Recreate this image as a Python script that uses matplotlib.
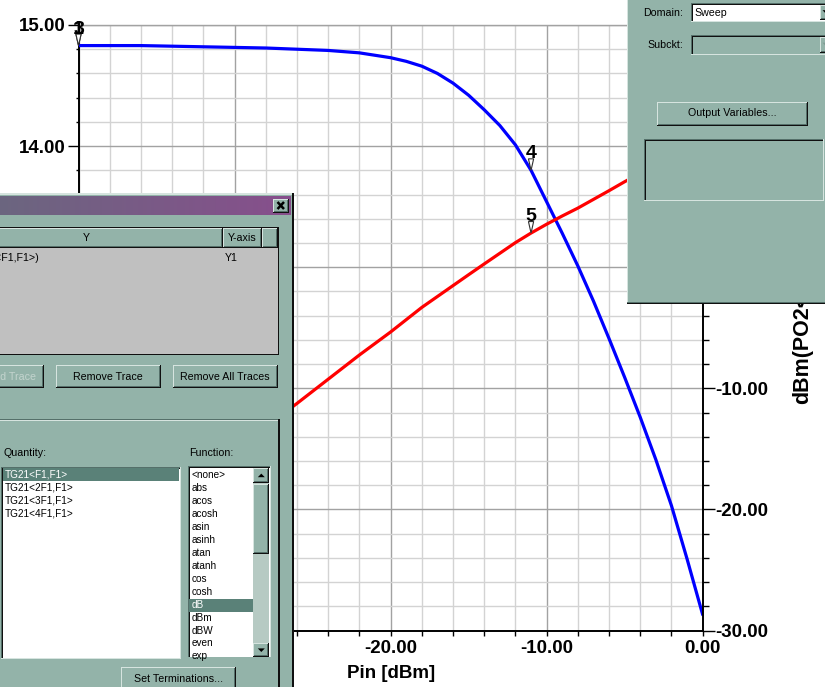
import numpy as np
import matplotlib
matplotlib.use("Agg")
import matplotlib.pyplot as plt
from matplotlib.patches import Rectangle, Polygon
from matplotlib.transforms import Affine2D, ScaledTranslation

# ---- swept data -------------------------------------------------------
pin_gain = [-40, -36, -32, -28, -26, -24, -22, -21, -20, -19, -18, -17, -16,
            -15, -14, -13, -12, -11, -10, -9, -8, -7, -6, -5, -4, -3, -2, -1, 0]
gain_db = [14.83, 14.83, 14.82, 14.81, 14.80, 14.79, 14.77, 14.75, 14.73,
           14.70, 14.66, 14.60, 14.52, 14.42, 14.30, 14.17, 14.01, 13.80,
           13.54, 13.28, 13.01, 12.72, 12.41, 12.09, 11.76, 11.41, 11.03,
           10.59, 10.13]

pin_pout = [-40, -36, -32, -28, -26, -24, -22, -20, -18, -16, -15, -14, -13,
            -12, -11, -10, -9, -8, -7, -6, -5, -4, -2, 0]
pout_dbm = [-25.2, -21.2, -17.2, -13.2, -11.25, -9.25, -7.25, -5.35, -3.32,
            -1.52, -0.62, 0.27, 1.15, 2.03, 2.82, 3.55, 4.23, 4.88, 5.6,
            6.32, 7.06, 7.76, 9.0, 10.1]

marker_ids = ["1", "3", "4", "5"]
marker_pin = [-40, -40, -11, -11]
marker_trace = ["gain", "gain", "gain", "pout"]

x_major = [-40, -30, -20, -10, 0]
gain_major = [10, 11, 12, 13, 14, 15]
pout_major = [-30, -20, -10, 0, 10, 20]

quantity_items = ["TG21<F1,F1>", "TG21<2F1,F1>", "TG21<3F1,F1>", "TG21<4F1,F1>"]
function_items = ["<none>", "abs", "acos", "acosh", "asin", "asinh", "atan",
                  "atanh", "cos", "cosh", "dB", "dBm", "dBW", "even", "exp"]

# ---- figure -----------------------------------------------------------
W, H = 825, 687
fig = plt.figure(figsize=(W / 100, H / 100), dpi=100)
fig.patch.set_facecolor("white")

AX_L, AX_R, AX_T, AX_B = 78.5, 702.7, 25.0, 630.5
ax = fig.add_axes([AX_L / W, 1 - AX_B / H, (AX_R - AX_L) / W, (AX_B - AX_T) / H])
ax2 = ax.twinx()

TICK_FONT = dict(family="Liberation Sans", weight="bold", size=13.5)
MINOR_C, MAJOR_C = "#d3d3d3", "#a2a2a2"

ax.set_xlim(-40, 0)
ax.set_ylim(10, 15)
ax2.set_ylim(-30, 20)

ax.set_xticks(x_major)
ax.set_xticks(np.arange(-40, 0.1, 2), minor=True)
ax.set_yticks(gain_major)
ax.set_yticks(np.arange(10, 15.01, 0.2), minor=True)
ax2.set_yticks(pout_major)
ax2.set_yticks(np.arange(-30, 20.1, 2), minor=True)

ax.set_xticklabels([f"{v:.2f}" for v in x_major], fontdict=TICK_FONT)
ax.set_yticklabels([f"{v:.2f}" for v in gain_major], fontdict=TICK_FONT)
ax2.set_yticklabels([f"{v:.2f}" for v in pout_major], fontdict=TICK_FONT)

ax.set_axisbelow(True)
ax.grid(which="minor", color=MINOR_C, lw=1.0)
ax.grid(which="major", color=MAJOR_C, lw=1.0)

ax.tick_params(axis="x", which="both", direction="out", length=3.6, width=1.0,
               pad=3, color="black")
ax.tick_params(axis="y", which="major", direction="out", length=8, width=1.0,
               pad=1.5, color="black")
ax.tick_params(axis="y", which="minor", direction="out", length=2.4, width=1.0,
               color="black")
ax2.tick_params(axis="y", which="major", direction="out", length=8.8, width=1.0,
                pad=0.3, color="black")
ax2.tick_params(axis="y", which="minor", direction="out", length=4.3, width=1.0,
                color="black")

for name, sp in ax.spines.items():
    sp.set_color("black")
    sp.set_linewidth(1.4)
ax.spines["right"].set_visible(False)
ax.spines["top"].set_color(MAJOR_C)
ax.spines["top"].set_linewidth(1.0)
for name in ("left", "top", "bottom"):
    ax2.spines[name].set_visible(False)
ax2.spines["right"].set_color("black")
ax2.spines["right"].set_linewidth(1.4)

ax.set_xlabel("Pin [dBm]", family="Liberation Sans", weight="bold", size=13.5,
              va="top")
ax.xaxis.set_label_coords(0.5, -(665 - AX_B) / (AX_B - AX_T))

fig.text(803 / W, 1 - 404 / H, "dBm(PO2<F1,F1>)", rotation=90,
         rotation_mode="anchor", ha="left", va="center",
         family="Liberation Sans", weight="bold", size=15.5)

# traces
ax.plot(pin_gain, gain_db, color="#0000ff", lw=2.3, solid_capstyle="round",
        solid_joinstyle="round", zorder=3)
ax2.plot(pin_pout, pout_dbm, color="#ff0000", lw=2.3, solid_capstyle="round",
         solid_joinstyle="round", zorder=3)


def add_marker(axis, x, y, text):
    tr = Affine2D() + ScaledTranslation(x, y, axis.transData)
    tri = Polygon([(0, 0), (-2.6, 11.5), (2.6, 11.5)], closed=True,
                  transform=tr, fc="white", ec="#303030", lw=0.8,
                  clip_on=False, zorder=6)
    axis.add_artist(tri)
    axis.annotate(text, (x, y), xytext=(0, 12.0 * 0.72),
                  textcoords="offset points", ha="center", va="baseline",
                  family="Liberation Sans", weight="bold", size=14,
                  annotation_clip=False, zorder=7)


for mid, mx, mt in zip(marker_ids, marker_pin, marker_trace):
    if mt == "gain":
        add_marker(ax, mx, float(np.interp(mx, pin_gain, gain_db)), mid)
    else:
        add_marker(ax2, mx, float(np.interp(mx, pin_pout, pout_dbm)), mid)

ax.set_xlim(-40, 0)
ax.set_ylim(10, 15)
ax2.set_ylim(-30, 20)

# ---- dialog windows drawn on top (pixel coordinates) -------------------
ov = fig.add_axes([0, 0, 1, 1], zorder=10)
ov.set_xlim(0, W)
ov.set_ylim(H, 0)
ov.axis("off")

TEAL = "#93b3a9"
HILITE = "#d6e4df"
SHADOW = "#55706a"
BLACK = "#101010"
SEL = "#5a8178"
UI_FONT = "Liberation Sans"


def box(x0, y0, x1, y1, fc, z=1):
    ov.add_patch(Rectangle((x0, y0), x1 - x0, y1 - y0, fc=fc, ec="none",
                           lw=0, zorder=z))


def raised(x0, y0, x1, y1, fc=TEAL, z=2):
    box(x0, y0, x1, y1, fc, z)
    box(x0, y0, x1 - 1, y0 + 1, HILITE, z + 0.1)
    box(x0, y0, x0 + 1, y1 - 1, HILITE, z + 0.1)
    box(x0 + 1, y1 - 2, x1 - 1, y1 - 1, SHADOW, z + 0.1)
    box(x1 - 2, y0 + 1, x1 - 1, y1 - 1, SHADOW, z + 0.1)
    box(x0, y1 - 1, x1, y1, BLACK, z + 0.2)
    box(x1 - 1, y0, x1, y1, BLACK, z + 0.2)


def sunken(x0, y0, x1, y1, fc, z=2):
    box(x0, y0, x1, y1, fc, z)
    box(x0, y0, x1, y0 + 1, SHADOW, z + 0.1)
    box(x0, y0, x0 + 1, y1, SHADOW, z + 0.1)
    box(x0 + 1, y0 + 1, x1 - 1, y0 + 2, BLACK, z + 0.1)
    box(x0 + 1, y0 + 1, x0 + 2, y1 - 1, BLACK, z + 0.1)
    box(x0, y1 - 1, x1, y1, HILITE, z + 0.1)
    box(x1 - 1, y0, x1, y1, HILITE, z + 0.1)


def label(x, y, s, ha="left", color="black", size=7.7, z=5):
    ov.text(x, y, s, ha=ha, va="center", fontsize=size, family=UI_FONT,
            color=color, zorder=z)


def arrow(cx, cy, up=True, color="black", z=4):
    d = -1 if up else 1
    ov.add_patch(Polygon([(cx - 3.5, cy - 1.8 * d), (cx + 3.5, cy - 1.8 * d),
                          (cx, cy + 1.8 * d)], closed=True, fc=color,
                         ec="none", zorder=z))


# left dialog ("Add Trace" panel)
box(-10, 193, 294, H + 10, TEAL, 1)
box(-10, 193, 293, 194.5, HILITE, 1.1)
box(291.5, 193, 294, H + 10, BLACK, 1.1)
grad = np.linspace(0, 1, 256)[None, :, None]
c0 = np.array([0.42, 0.40, 0.50])
c1 = np.array([0.53, 0.31, 0.55])
ov.imshow(c0 + (c1 - c0) * grad, extent=[-2, 291, 215, 196], aspect="auto",
          interpolation="bilinear", zorder=1.5)
raised(272.5, 198.5, 289, 213)
ov.plot([277.5, 284], [202, 209], color="black", lw=1.8, zorder=5,
        solid_capstyle="butt")
ov.plot([277.5, 284], [209, 202], color="black", lw=1.8, zorder=5,
        solid_capstyle="butt")

# trace table
box(-10, 227, 279, 354.5, BLACK, 1.8)
box(-10, 248, 278, 353.5, "#c0c0c0", 2)
raised(-10, 228, 223, 248)
raised(223, 228, 262, 248)
raised(262, 228, 278, 248)
label(86, 238, "Y", ha="center")
label(242.5, 238, "Y-axis", ha="center")
label(39.5, 258, "dB(TG21<F1,F1>)", ha="right")
label(225, 258, "Y1")

raised(-60, 365, 43.5, 388)
label(36, 376.5, "Add Trace", ha="right", color="#c3d4ce")
raised(55.5, 365, 161, 388)
label(108.3, 376.5, "Remove Trace", ha="center")
raised(172.5, 365, 278, 388)
label(225.3, 376.5, "Remove All Traces", ha="center")

# measurement group box
box(-10, 418.5, 279, 419.5, SHADOW, 1.8)
box(-10, 419.5, 278, 420.5, HILITE, 1.8)
box(278, 418.5, 279.5, H + 10, BLACK, 1.8)
label(3, 453.5, "Quantity:")
label(189.5, 453.5, "Function:")

LIST_SIZE = 7.2
sunken(1, 466.5, 180.5, 658.5, "white")
box(2.5, 468, 179, 481.2, SEL, 3)
for i, item in enumerate(quantity_items):
    label(5, 474.8 + 13.0 * i, item, color="white" if i == 0 else "black",
          size=LIST_SIZE)

sunken(187.5, 466, 270.5, 658.5, "white")
for i, item in enumerate(function_items):
    yy = 475.0 + 12.96 * i
    if item == "dB":
        box(189, 598.8, 252.5, 611.6, SEL, 3)
    label(191.5, yy, item, color="white" if item == "dB" else "black",
          size=LIST_SIZE)
box(187.5, 657, 270.5, 659.5, TEAL, 4.5)
box(253.3, 468, 269.3, 657, "#b6cac3", 4)
raised(253.3, 468, 269.3, 482.8, z=4.2)
arrow(261.3, 475.4, up=True, z=4.6)
raised(253.3, 484, 269.3, 554, z=4.2)
raised(253.3, 643.3, 269.3, 657, z=4.2)
arrow(261.3, 650.2, up=False, z=4.6)

raised(121, 666.5, 235.5, H + 10)
label(178.3, 679.5, "Set Terminations...", ha="center")

# right dialog (data source panel)
box(627, -10, W + 10, 304, TEAL, 1)
box(627, -10, 628.3, 303, HILITE, 1.1)
box(627, 301.5, W + 10, 302.5, SHADOW, 1.1)
box(627, 302.5, W + 10, 304, BLACK, 1.1)

label(643.5, 13.5, "Domain:")
sunken(690.5, 2.5, W + 10, 22, "white")
label(694, 13.2, "Sweep")
raised(819.5, 4.5, W + 10, 20, z=3)
arrow(826, 12, up=False, z=4)

label(647, 45.3, "Subckt:")
sunken(690.5, 35, W + 10, 54.5, TEAL)
raised(819.5, 37, W + 10, 52.5, z=3)
arrow(826, 44.5, up=False, color="#7f9a92", z=4)

raised(656.5, 101.5, 807.5, 125.5)
label(732, 113.5, "Output Variables...", ha="center")

sunken(644.3, 138.5, 823.5, 200.5, TEAL)

ov.set_xlim(0, W)
ov.set_ylim(H, 0)

fig.savefig("out.png", dpi=100, facecolor="white")
